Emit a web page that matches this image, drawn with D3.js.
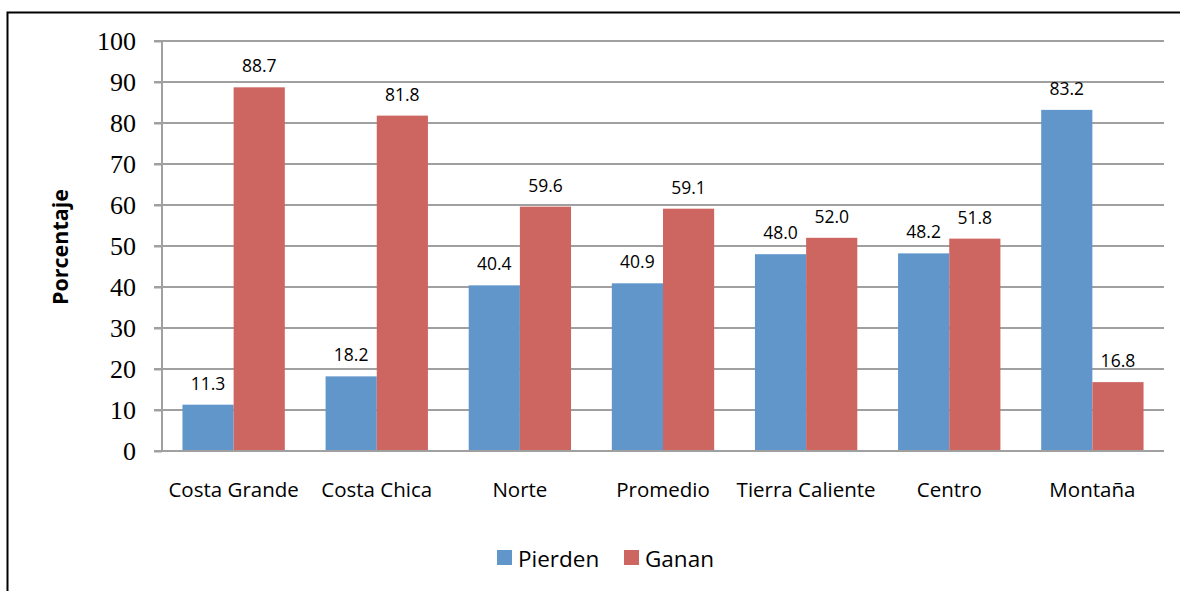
<!DOCTYPE html>
<html>
<head>
<meta charset="utf-8">
<script src="https://cdn.jsdelivr.net/npm/d3@7/dist/d3.min.js"></script>
<style>
  html, body { margin: 0; padding: 0; background: #fff; }
  svg { display: block; }
</style>
</head>
<body>
<svg id="chart" width="1180" height="591"></svg>
<script>
// Regional results (percent)
const categories = ["Costa Grande", "Costa Chica", "Norte", "Promedio", "Tierra Caliente", "Centro", "Montaña"];
const pierden = [11.3, 18.2, 40.4, 40.9, 48.0, 48.2, 83.2];
const ganan = [88.7, 81.8, 59.6, 59.1, 52.0, 51.8, 16.8];
const seriesNames = ["Pierden", "Ganan"];
const seriesColors = ["#6096CA", "#CD6560"];
const yTicks = [0, 10, 20, 30, 40, 50, 60, 70, 80, 90, 100];
const yTitle = "Porcentaje";

const sans = "'Open Sans', 'Noto Sans', sans-serif";
const serif = "'Liberation Serif', 'DejaVu Serif', serif";

const svg = d3.select("#chart");
const W = 1180, H = 591;
const plot = { left: 162, right: 1164, top: 41, bottom: 451 };

// Outer frame
svg.append("rect")
  .attr("x", 7.5).attr("y", 12.5)
  .attr("width", W + 20).attr("height", H + 20)
  .attr("fill", "none").attr("stroke", "#000").attr("stroke-width", 2);

const x = d3.scaleBand().domain(categories).range([plot.left, plot.right]).paddingInner(0.285).paddingOuter(0.143);
const x1 = d3.scaleBand().domain(seriesNames).range([0, x.bandwidth()]);
const y = d3.scaleLinear().domain([0, 100]).range([plot.bottom, plot.top]);

// Gridlines
svg.append("g").selectAll("line").data(yTicks.filter(d => d > 0)).join("line")
  .attr("x1", plot.left - 8).attr("x2", plot.right)
  .attr("y1", d => y(d)).attr("y2", d => y(d))
  .attr("stroke", "#A0A0A0").attr("stroke-width", 2);

// Bars
const rows = categories.map((c, i) => ({ c, vals: [pierden[i], ganan[i]] }));
const groups = svg.append("g").selectAll("g").data(rows).join("g")
  .attr("transform", d => `translate(${x(d.c)},0)`);
groups.selectAll("rect").data(d => d.vals.map((v, j) => ({ v, j }))).join("rect")
  .attr("x", d => x1(seriesNames[d.j]))
  .attr("width", x1.bandwidth())
  .attr("y", d => y(d.v))
  .attr("height", d => y(0) - y(d.v))
  .attr("fill", d => seriesColors[d.j]);

// Value labels
groups.selectAll("text").data(d => d.vals.map((v, j) => ({ v, j }))).join("text")
  .attr("x", d => x1(seriesNames[d.j]) + x1.bandwidth() / 2)
  .attr("y", d => y(d.v) - 15)
  .attr("text-anchor", "middle")
  .attr("font-family", sans)
  .attr("font-size", 17.5)
  .attr("fill", "#000")
  .text(d => d.v.toFixed(1));

// Y axis
const yAxis = svg.append("g").attr("transform", `translate(${plot.left},0)`)
  .call(d3.axisLeft(y).tickValues(yTicks).tickSize(8).tickPadding(18).tickFormat(d3.format("d")));
yAxis.select(".domain").remove();
yAxis.selectAll(".tick line").attr("stroke", "#A0A0A0").attr("stroke-width", 2);
yAxis.selectAll(".tick text")
  .attr("font-family", serif)
  .attr("font-size", 26).attr("fill", "#000").attr("dy", "0.34em");
svg.append("line")
  .attr("x1", plot.left).attr("x2", plot.left)
  .attr("y1", plot.top).attr("y2", plot.bottom)
  .attr("stroke", "#A0A0A0").attr("stroke-width", 2);

// X axis
const xAxis = svg.append("g").attr("transform", `translate(0,${plot.bottom})`)
  .call(d3.axisBottom(x).tickSize(0));
xAxis.select(".domain").remove();
xAxis.selectAll(".tick text")
  .attr("y", 46).attr("dy", null)
  .attr("font-family", sans)
  .attr("font-size", 20.5).attr("fill", "#000");
svg.append("line")
  .attr("x1", plot.left - 8).attr("x2", plot.right)
  .attr("y1", plot.bottom).attr("y2", plot.bottom)
  .attr("stroke", "#A0A0A0").attr("stroke-width", 2);

// Y title
svg.append("text")
  .attr("transform", `translate(68,${(plot.top + plot.bottom) / 2 + 1}) rotate(-90)`)
  .attr("text-anchor", "middle")
  .attr("font-family", sans)
  .attr("font-weight", "bold").attr("font-size", 21.5)
  .text(yTitle);

// Legend
const legendX = [497, 624];
const legend = svg.append("g").selectAll("g").data(seriesNames).join("g")
  .attr("transform", (d, i) => `translate(${legendX[i]},550)`);
legend.append("rect").attr("width", 15).attr("height", 15).attr("fill", (d, i) => seriesColors[i]);
legend.append("text").attr("x", 21).attr("y", 16.5)
  .attr("font-family", sans)
  .attr("font-size", 22.5).attr("fill", "#000")
  .text(d => d);
</script>
</body>
</html>
